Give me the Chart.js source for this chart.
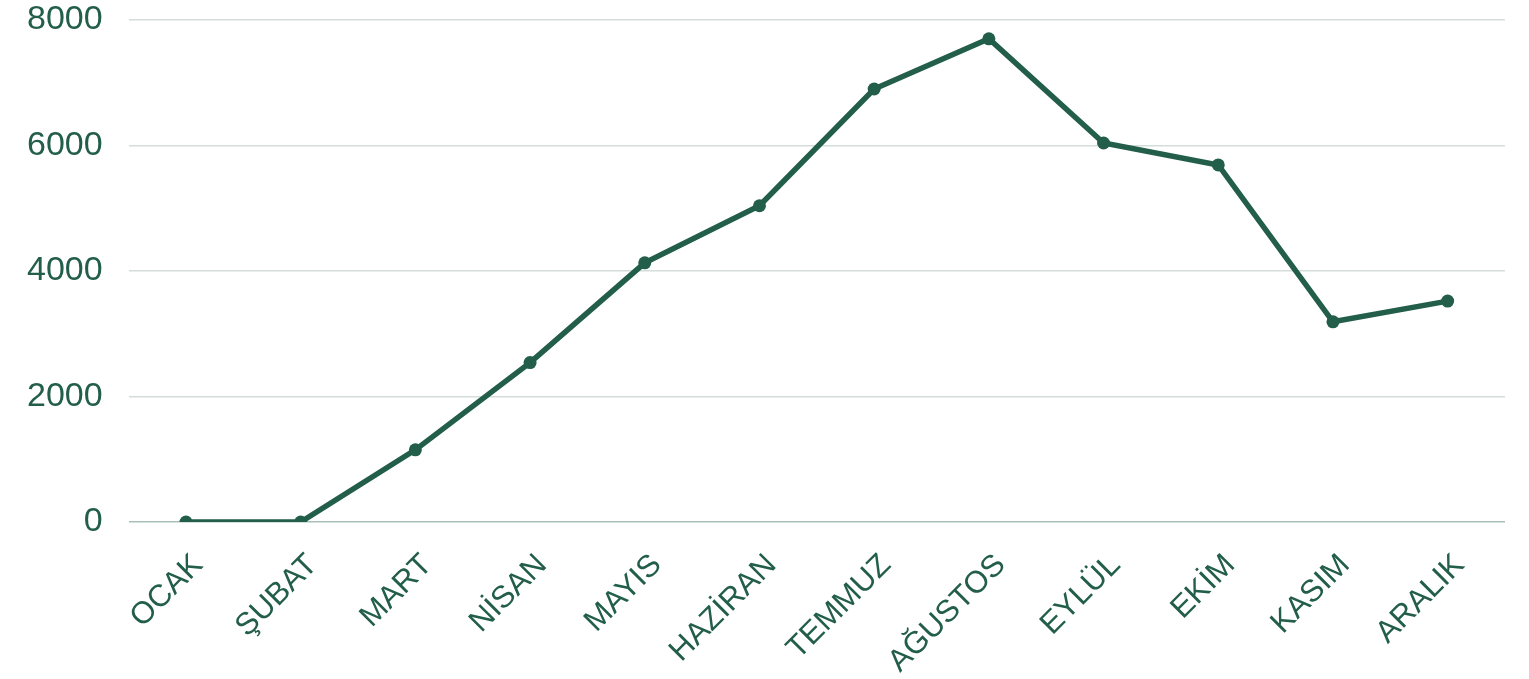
<!DOCTYPE html>
<html>
<head>
<meta charset="utf-8">
<script src="https://cdn.jsdelivr.net/npm/chart.js@4/dist/chart.umd.min.js"></script>
<style>
  html, body { margin: 0; padding: 0; background: #fff; }
  #wrap { width: 1529px; height: 679px; }
</style>
</head>
<body>
<div id="wrap"><canvas id="grafik"></canvas></div>
<script>
const aylar = ['OCAK', 'ŞUBAT', 'MART', 'NİSAN', 'MAYIS', 'HAZİRAN', 'TEMMUZ', 'AĞUSTOS', 'EYLÜL', 'EKİM', 'KASIM', 'ARALIK'];
const degerler = [0, 0, 1150, 2540, 4130, 5040, 6900, 7700, 6040, 5690, 3190, 3520];
const yTikler = [0, 2000, 4000, 6000, 8000];

const yesil = '#225e49';
const ctx = document.getElementById('grafik').getContext('2d');

new Chart(ctx, {
  type: 'line',
  data: {
    labels: aylar,
    datasets: [{
      data: degerler,
      borderColor: yesil,
      backgroundColor: yesil,
      borderWidth: 5.5,
      pointRadius: 6.5,
      pointBackgroundColor: yesil,
      pointBorderWidth: 0,
      tension: 0
    }]
  },
  options: {
    responsive: true,
    maintainAspectRatio: false,
    animation: false,
    layout: { padding: { top: 0, right: 24, left: 24, bottom: 0 } },
    plugins: { legend: { display: false }, tooltip: { enabled: false } },
    scales: {
      x: {
        offset: true,
        grid: { display: false, drawTicks: false, tickLength: 0 },
        border: { display: false },
        afterFit: axis => { axis.height = 157; },
        ticks: {
          color: yesil,
          font: { family: 'Liberation Sans, Arial, sans-serif', size: 31 },
          minRotation: 45,
          maxRotation: 45,
          autoSkip: false,
          padding: 25,
          labelOffset: 12
        }
      },
      y: {
        min: 0,
        max: 8000,
        afterBuildTicks: axis => { axis.ticks = yTikler.map(v => ({ value: v })); },
        grid: {
          color: ctx => ctx.tick.value === 0 ? '#a9c1b8' : '#d3dedb',
          lineWidth: 1.5,
          tickLength: 23,
          tickColor: 'rgba(0,0,0,0)'
        },
        border: { display: false },
        ticks: {
          color: yesil,
          font: { family: 'Liberation Sans, Arial, sans-serif', size: 34, lineHeight: 1 },
          padding: 3,
          callback: v => String(v)
        }
      }
    }
  }
});
</script>
</body>
</html>
